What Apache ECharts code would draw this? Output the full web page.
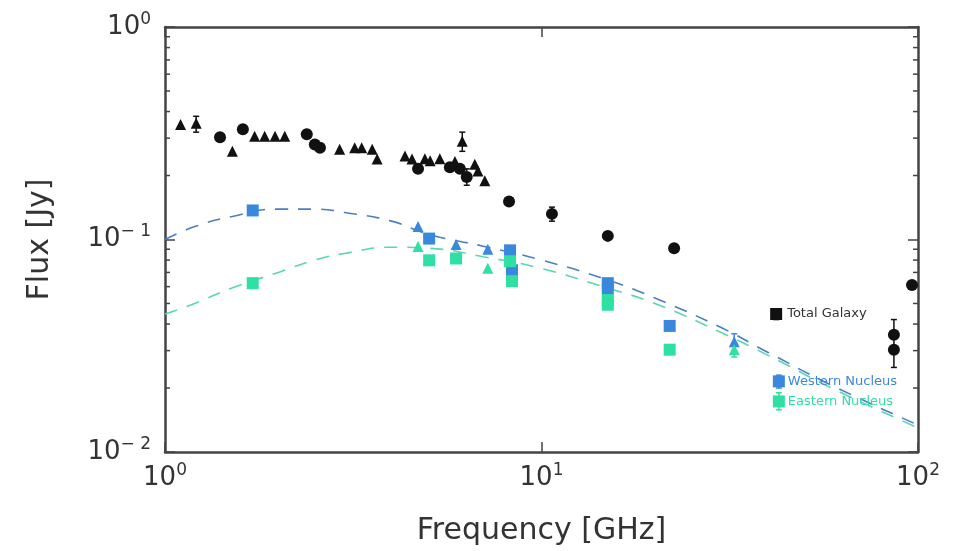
<!DOCTYPE html>
<html><head><meta charset="utf-8">
<script src="https://cdn.jsdelivr.net/npm/echarts@6/dist/echarts.min.js"></script>
<style>html,body{margin:0;padding:0;background:#fff}#c{width:953px;height:551px}</style>
</head><body><div id="c"></div>
<script>
// ---- data (frequency GHz, flux Jy) ----
const galaxyCircles = [[1.40,0.303],[1.61,0.33],[2.38,0.313],[2.50,0.28],[2.58,0.27],[4.70,0.215],[5.71,0.219],[6.07,0.215],[6.33,0.197],[8.2,0.151],[10.66,0.132],[15.0,0.104],[22.5,0.091],[86.3,0.0356],[86.3,0.0303],[96.4,0.061]];
const galaxyTriangles = [[1.10,0.348],[1.21,0.352],[1.51,0.26],[1.73,0.306],[1.84,0.306],[1.96,0.306],[2.08,0.306],[2.91,0.266],[3.19,0.27],[3.33,0.27],[3.55,0.266],[3.66,0.239],[4.34,0.247],[4.53,0.239],[4.90,0.24],[5.06,0.235],[5.37,0.24],[5.89,0.233],[6.16,0.29],[6.65,0.226],[6.78,0.21],[7.07,0.189]];
const westSquares = [[1.71,0.137],[5.03,0.101],[8.25,0.0889],[8.35,0.0716],[15.0,0.0623],[15.0,0.0586],[21.9,0.0392]];
const westTriangles = [[4.70,0.115],[5.93,0.0948],[7.2,0.090],[32.5,0.033]];
const eastSquares = [[1.71,0.0623],[5.03,0.0798],[5.93,0.0814],[8.25,0.079],[8.35,0.0637],[15.0,0.0519],[15.0,0.0493],[21.9,0.0303]];
const eastTriangles = [[4.70,0.0927],[7.2,0.0732],[32.5,0.0303]];
const labelGalaxy = [[42.0,0.0446]];
const labelWest = [[42.7,0.0215]];
const labelEast = [[42.7,0.0173]];
const westModel = [[1,0.100],[1.2,0.115],[1.5,0.128],[2,0.139],[2.5,0.139],[3,0.134],[4,0.122],[5,0.106],[7,0.093],[10,0.080],[15,0.0645],[20,0.053],[30,0.0385],[40,0.0294],[60,0.0203],[100,0.0134]];
const eastModel = [[1,0.0446],[1.2,0.050],[1.5,0.059],[2,0.070],[2.5,0.080],[3,0.086],[4,0.092],[5,0.091],[7,0.083],[10,0.073],[15,0.059],[20,0.050],[30,0.0365],[40,0.0285],[60,0.0197],[100,0.013]];
// error bars [freq, low, high]
const galaxyErr = [[1.21,0.32,0.38],[6.16,0.26,0.32],[6.33,0.18,0.215],[10.66,0.122,0.142],[42.0,0.042,0.047],[86.3,0.025,0.042]];
const westErr = [[32.5,0.030,0.036],[42.7,0.020,0.023]];
const eastErr = [[32.5,0.028,0.032],[42.7,0.0158,0.019]];
// tick values
const xMinorTicks = [2,3,4,5,6,7,8,9,20,30,40,50,60,70,80,90];
const yMinorTicks = [0.02,0.03,0.04,0.05,0.06,0.07,0.08,0.09,0.2,0.3,0.4,0.5,0.6,0.7,0.8,0.9];

const BLACK='#111', BLUE='#3a88dc', GREEN='#2ee0a2', BLUEL='#4a7fc6', GREENL='#5ad6b2';

function powLabel(v){
  const e = Math.round(Math.log10(v));
  return '{b|10}{s|' + (e<0 ? '\u2212 ' + (-e) : e) + '}';
}
const rich = {b:{fontSize:26,lineHeight:32,color:'#333',fontFamily:'DejaVu Sans'},
              s:{fontSize:17,lineHeight:17,verticalAlign:'top',color:'#333',fontFamily:'DejaVu Sans'}};

function errSeries(data,color){
  return {type:'custom',data:data,z:3,silent:true,
    renderItem:function(p,api){
      const x=api.value(0), lo=api.coord([x,api.value(1)]), hi=api.coord([x,api.value(2)]);
      return {type:'group',children:[
        {type:'line',shape:{x1:lo[0],y1:lo[1],x2:hi[0],y2:hi[1]},style:{stroke:color,lineWidth:1.5}},
        {type:'line',shape:{x1:lo[0]-3,y1:lo[1],x2:lo[0]+3,y2:lo[1]},style:{stroke:color,lineWidth:1.5}},
        {type:'line',shape:{x1:hi[0]-3,y1:hi[1],x2:hi[0]+3,y2:hi[1]},style:{stroke:color,lineWidth:1.5}}
      ]};
    }};
}
const minorData = xMinorTicks.map(v=>['x',v]).concat(yMinorTicks.map(v=>['y',v]));

const chart = echarts.init(document.getElementById('c'),null,{renderer:'canvas'});
const axisLine={show:true,lineStyle:{color:'#444',width:2.5}};
const sc = (data,sym,size,color,extra)=>Object.assign({type:'scatter',data:data,symbol:sym,symbolSize:size,itemStyle:{color:color,opacity:1},z:4},extra||{});
chart.setOption({
  animation:false,
  grid:{left:165,right:35,top:27,bottom:96,containLabel:false},
  xAxis:[
    {type:'log',logBase:10,min:1,max:100,position:'bottom',axisLine:axisLine,
     axisTick:{inside:true,length:10,lineStyle:{color:'#444',width:1.5}},splitLine:{show:false},
     axisLabel:{formatter:powLabel,rich:rich,margin:10},
     name:'Frequency [GHz]',nameLocation:'middle',nameGap:64,
     nameTextStyle:{fontSize:30,color:'#333',fontFamily:'DejaVu Sans'}},
    {type:'log',logBase:10,min:1,max:100,position:'top',axisLine:axisLine,
     axisTick:{inside:true,length:10,lineStyle:{color:'#444',width:1.5}},axisLabel:{show:false},splitLine:{show:false}}
  ],
  yAxis:[
    {type:'log',logBase:10,min:0.01,max:1,position:'left',axisLine:axisLine,
     axisTick:{inside:true,length:10,lineStyle:{color:'#444',width:1.5}},splitLine:{show:false},
     axisLabel:{formatter:powLabel,rich:rich,margin:14},
     name:'Flux [Jy]',nameLocation:'middle',nameGap:110,nameRotate:90,
     nameTextStyle:{fontSize:30,color:'#333',fontFamily:'DejaVu Sans'}},
    {type:'log',logBase:10,min:0.01,max:1,position:'right',axisLine:axisLine,
     axisTick:{inside:true,length:10,lineStyle:{color:'#444',width:1.5}},axisLabel:{show:false},splitLine:{show:false}}
  ],
  series:[
    {type:'custom',data:minorData,silent:true,z:1,clip:false,
     renderItem:function(p,api){
       const k=api.value(0), v=api.value(1), L=5, st={stroke:'#444',lineWidth:1.5};
       if(k==='x'){
         const b=api.coord([v,0.01]), t=api.coord([v,1]);
         return {type:'group',children:[
           {type:'line',shape:{x1:b[0],y1:b[1],x2:b[0],y2:b[1]-L},style:st},
           {type:'line',shape:{x1:t[0],y1:t[1],x2:t[0],y2:t[1]+L},style:st}]};
       } else {
         const l=api.coord([1,v]), r=api.coord([100,v]);
         return {type:'group',children:[
           {type:'line',shape:{x1:l[0],y1:l[1],x2:l[0]+L,y2:l[1]},style:st},
           {type:'line',shape:{x1:r[0],y1:r[1],x2:r[0]-L,y2:r[1]},style:st}]};
       }
     }},
    {type:'line',data:westModel,smooth:true,showSymbol:false,lineStyle:{color:BLUEL,width:1.6,type:[13,10]},z:2},
    {type:'line',data:eastModel,smooth:true,showSymbol:false,lineStyle:{color:GREENL,width:1.6,type:[13,10]},z:2},
    errSeries(galaxyErr,BLACK),errSeries(westErr,BLUE),errSeries(eastErr,GREEN),
    sc(galaxyCircles,'circle',12,BLACK),
    sc(galaxyTriangles,'triangle',11,BLACK),
    sc(westSquares,'rect',12,BLUE),
    sc(westTriangles,'triangle',11,BLUE),
    sc(eastSquares,'rect',12,GREEN),
    sc(eastTriangles,'triangle',11,GREEN),
    sc(labelGalaxy,'rect',12,BLACK,{label:{show:true,position:'right',distance:5,formatter:'Total Galaxy',color:'#333',fontSize:13,fontFamily:'DejaVu Sans'}}),
    sc(labelWest,'rect',12,BLUE,{label:{show:true,position:'right',distance:3,formatter:'Western Nucleus',color:BLUE,fontSize:13,fontFamily:'DejaVu Sans'}}),
    sc(labelEast,'rect',12,GREEN,{label:{show:true,position:'right',distance:3,formatter:'Eastern Nucleus',color:GREEN,fontSize:13,fontFamily:'DejaVu Sans'}})
  ]
});
</script></body></html>
